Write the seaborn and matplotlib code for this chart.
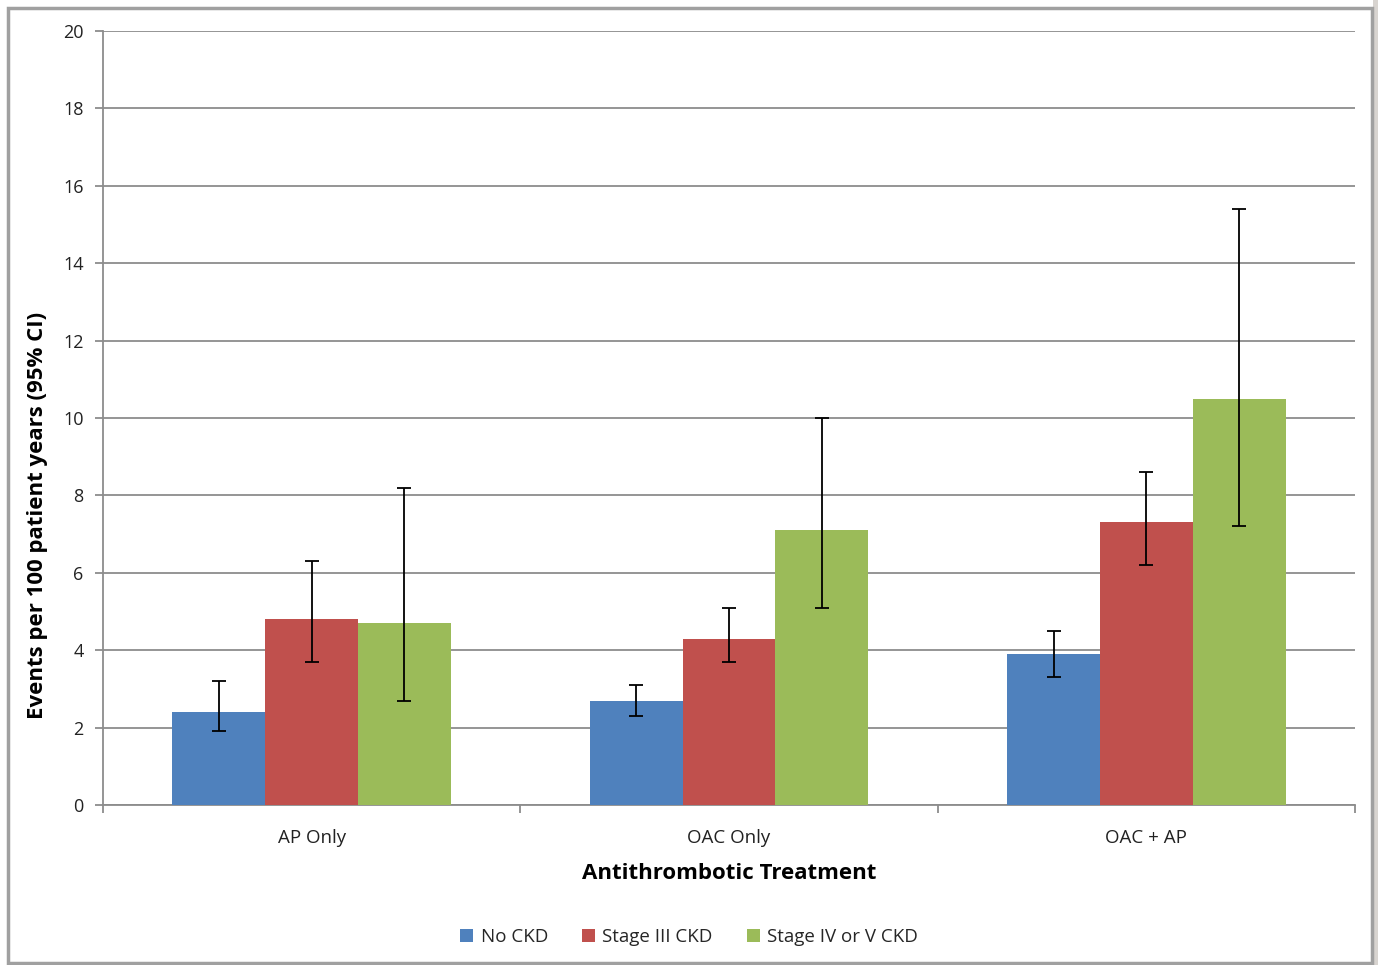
import matplotlib
matplotlib.use("Agg")
import matplotlib.pyplot as plt
from matplotlib.patches import Rectangle
import seaborn as sns
import pandas as pd
import numpy as np

categories = ["AP Only", "OAC Only", "OAC + AP"]
series = ["No CKD", "Stage III CKD", "Stage IV or V CKD"]
no_ckd = [2.4, 2.7, 3.9]
no_ckd_lo = [1.9, 2.3, 3.3]
no_ckd_hi = [3.2, 3.1, 4.5]
stage3 = [4.8, 4.3, 7.3]
stage3_lo = [3.7, 3.7, 6.2]
stage3_hi = [6.3, 5.1, 8.6]
stage45 = [4.7, 7.1, 10.5]
stage45_lo = [2.7, 5.1, 7.2]
stage45_hi = [8.2, 10.0, 15.4]
colors = ["#4F81BD", "#C0504D", "#9BBB59"]

vals = [no_ckd, stage3, stage45]
los = [no_ckd_lo, stage3_lo, stage45_lo]
his = [no_ckd_hi, stage3_hi, stage45_hi]
rows = []
for s, v, lo, hi in zip(series, vals, los, his):
    for c, vv, l, h in zip(categories, v, lo, hi):
        rows.append(dict(Treatment=c, Group=s, Value=vv, Lo=l, Hi=h))
df = pd.DataFrame(rows)

sns.set_theme(style="white")
plt.rcParams["font.family"] = ["Open Sans", "DejaVu Sans"]

fig = plt.figure(figsize=(13.78, 9.65), dpi=100)
ax = fig.add_axes([103/1378, 1-805/965, (1355-103)/1378, (805-31)/965])

sns.barplot(data=df, x="Treatment", y="Value", hue="Group", order=categories,
            hue_order=series, palette=colors, width=0.667, errorbar=None,
            saturation=1, ax=ax, legend=True, linewidth=0, zorder=3)

# error bars at bar centers from the patches
for s, cont in zip(series, ax.containers):
    sub = df[df.Group == s].set_index("Treatment").loc[categories]
    xs = [p.get_x() + p.get_width()/2 for p in cont.patches]
    ys = sub.Value.values
    yerr = np.vstack([ys - sub.Lo.values, sub.Hi.values - ys])
    ax.errorbar(xs, ys, yerr=yerr, fmt="none", ecolor="black", elinewidth=1.3,
                capsize=5, capthick=1.3, zorder=4)

ax.set_ylim(0, 20)
ax.set_xlim(-0.5, 2.5)
ax.set_yticks(range(0, 21, 2))
ax.yaxis.grid(True, color="#8c8c8c", linewidth=1.3, zorder=0)
ax.set_axisbelow(True)
for sp in ["top", "right"]:
    ax.spines[sp].set_visible(False)
for sp in ["left", "bottom"]:
    ax.spines[sp].set_color("#8c8c8c")
    ax.spines[sp].set_linewidth(1.3)

ax.tick_params(axis="y", left=True, length=6, width=1.3, color="#8c8c8c",
               labelsize=13, labelcolor="#222222", pad=8)
ax.tick_params(axis="x", bottom=False, labelsize=13.5, labelcolor="#222222", pad=11)
ax.set_xticks(range(3))
ax.set_xticklabels(categories)
ax.set_xticks([-0.5, 0.5, 1.5, 2.5], minor=True)
ax.tick_params(axis="x", which="minor", bottom=True, length=6, width=1.3,
               color="#8c8c8c")

ax.set_xlabel("Antithrombotic Treatment", fontsize=16, fontweight="bold",
              labelpad=12, color="black")
ax.set_ylabel("Events per 100 patient years (95% CI)", fontsize=16,
              fontweight="bold", color="black")
ax.yaxis.set_label_coords((48-103)/1252, (805-515)/774)

ax.legend(loc="center", bbox_to_anchor=(0.5, (965-937)/965), bbox_transform=fig.transFigure,
          ncol=3, frameon=False, fontsize=13.5, handlelength=0.7, handleheight=0.7,
          handletextpad=0.4, columnspacing=1.8)

fig.patches.append(Rectangle((1373/1378, 0), 5/1378, 1, transform=fig.transFigure,
                             facecolor="#d8d4d0", edgecolor="none", zorder=9))
fig.patches.append(Rectangle((8/1378, 2/965), (1372-8)/1378, (963-8)/965,
                             transform=fig.transFigure, fill=False,
                             edgecolor="#a0a0a0", linewidth=2.5, zorder=10))

fig.savefig("out.png", dpi=100, facecolor="white")
